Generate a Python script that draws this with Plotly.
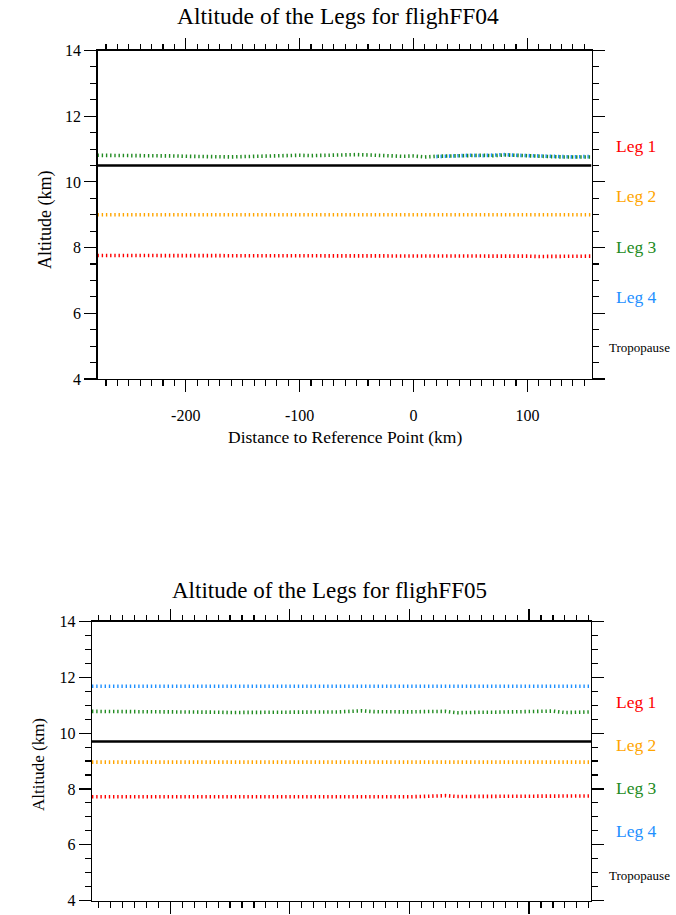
import plotly.graph_objects as go

# ---------------------------------------------------------------------------
# Flight FF04: distance to reference point (km) and leg altitudes (km)
# ---------------------------------------------------------------------------
dist_ff04 = [-277.5, -270, -260, -250, -240, -230, -220, -210, -200, -190,
             -180, -170, -160, -150, -140, -130, -120, -110, -100, -90,
             -80, -70, -60, -50, -40, -30, -20, -10, 0, 10,
             20, 30, 40, 50, 60, 70, 80, 90, 100, 110,
             120, 130, 140, 150, 156.3]

ff04_leg1 = [7.76, 7.76, 7.76, 7.76, 7.76, 7.75, 7.75, 7.75, 7.75, 7.75,
             7.75, 7.75, 7.76, 7.76, 7.76, 7.75, 7.75, 7.75, 7.76, 7.76,
             7.76, 7.75, 7.75, 7.75, 7.75, 7.76, 7.76, 7.75, 7.75, 7.75,
             7.74, 7.74, 7.75, 7.75, 7.74, 7.74, 7.74, 7.74, 7.74, 7.73,
             7.73, 7.73, 7.73, 7.74, 7.74]

ff04_leg2 = [9.00, 9.00, 9.00, 9.00, 9.00, 9.00, 9.00, 9.00, 9.00, 9.00,
             9.00, 9.00, 9.00, 9.00, 9.00, 9.00, 9.00, 9.00, 9.00, 9.00,
             9.00, 9.00, 9.00, 9.00, 9.00, 9.00, 9.00, 9.00, 9.00, 9.00,
             9.00, 9.00, 9.00, 9.00, 9.00, 9.00, 9.00, 9.00, 9.00, 9.00,
             9.00, 9.00, 9.00, 9.00, 9.00]

ff04_leg3 = [10.81, 10.81, 10.81, 10.80, 10.80, 10.80, 10.79, 10.79, 10.78, 10.77,
             10.76, 10.76, 10.76, 10.77, 10.78, 10.79, 10.81, 10.82, 10.81, 10.80,
             10.81, 10.82, 10.82, 10.83, 10.82, 10.80, 10.78, 10.78, 10.79, 10.76,
             10.78, 10.79, 10.80, 10.80, 10.81, 10.80, 10.82, 10.81, 10.79, 10.78,
             10.77, 10.76, 10.75, 10.76, 10.76]

dist_ff04_leg4 = [20, 30, 40, 50, 60, 70, 80, 90, 100, 110, 120, 130, 140, 150, 156.3]
ff04_leg4 = [10.77, 10.79, 10.81, 10.81, 10.80, 10.82, 10.83, 10.81, 10.80, 10.79,
             10.77, 10.77, 10.76, 10.77, 10.77]

ff04_tropopause = [10.5] * len(dist_ff04)

# ---------------------------------------------------------------------------
# Flight FF05
# ---------------------------------------------------------------------------
dist_ff05 = [-265.4, -260, -250, -240, -230, -220, -210, -200, -190, -180,
             -170, -160, -150, -140, -130, -120, -110, -100, -90, -80,
             -70, -60, -50, -40, -30, -20, -10, 0, 10, 20,
             30, 40, 50, 60, 70, 80, 90, 100, 110, 120,
             130, 140, 150, 151.8]

ff05_leg1 = [7.72, 7.72, 7.72, 7.72, 7.72, 7.72, 7.71, 7.71, 7.71, 7.70,
             7.70, 7.70, 7.69, 7.69, 7.69, 7.69, 7.69, 7.70, 7.70, 7.70,
             7.71, 7.71, 7.71, 7.72, 7.72, 7.71, 7.72, 7.72, 7.73, 7.74,
             7.76, 7.73, 7.73, 7.74, 7.74, 7.74, 7.75, 7.74, 7.75, 7.75,
             7.75, 7.75, 7.76, 7.75]

ff05_leg2 = [8.96, 8.96, 8.96, 8.96, 8.96, 8.96, 8.96, 8.96, 8.96, 8.96,
             8.96, 8.96, 8.96, 8.96, 8.96, 8.96, 8.96, 8.96, 8.96, 8.96,
             8.96, 8.96, 8.96, 8.96, 8.96, 8.96, 8.96, 8.96, 8.96, 8.96,
             8.96, 8.96, 8.96, 8.96, 8.96, 8.96, 8.96, 8.96, 8.96, 8.96,
             8.96, 8.96, 8.96, 8.96]

ff05_leg3 = [10.78, 10.78, 10.78, 10.78, 10.77, 10.77, 10.77, 10.77, 10.76, 10.76,
             10.75, 10.75, 10.74, 10.74, 10.74, 10.74, 10.74, 10.74, 10.75, 10.75,
             10.76, 10.76, 10.78, 10.80, 10.77, 10.76, 10.76, 10.76, 10.77, 10.76,
             10.78, 10.73, 10.75, 10.75, 10.75, 10.76, 10.76, 10.76, 10.77, 10.79,
             10.74, 10.76, 10.76, 10.76]

ff05_leg4 = [11.68] * len(dist_ff05)

ff05_tropopause = [9.70] * len(dist_ff05)

# Axis ticks (labels written with a plain hyphen for negatives)
dist_tick_vals = [-200, -100, 0, 100]
dist_tick_text = ["-200", "-100", "0", "100"]
alt_tick_vals = [4, 6, 8, 10, 12, 14]
alt_tick_text = ["4", "6", "8", "10", "12", "14"]

leg_names = ["Leg 1", "Leg 2", "Leg 3", "Leg 4", "Tropopause"]
leg_colors = ["#ff0000", "#ffa500", "#228b22", "#1e90ff", "#000000"]

# ---------------------------------------------------------------------------
W, H = 676, 915
SERIF = "Liberation Serif, Times New Roman, serif"
DOT = "1.4px,2.8px"

fig = go.Figure()


def add_leg(x, y, color, xa, ya):
    fig.add_trace(go.Scatter(
        x=x, y=y, mode="lines", xaxis=xa, yaxis=ya, showlegend=False,
        line=dict(color=color, width=3.6, dash=DOT), hoverinfo="skip"))


def add_trop(x, y, xa, ya):
    fig.add_trace(go.Scatter(
        x=x, y=y, mode="lines", xaxis=xa, yaxis=ya, showlegend=False,
        line=dict(color="#000000", width=2.4), hoverinfo="skip"))


# FF04 panel
add_trop(dist_ff04, ff04_tropopause, "x", "y")
add_leg(dist_ff04, ff04_leg1, leg_colors[0], "x", "y")
add_leg(dist_ff04, ff04_leg2, leg_colors[1], "x", "y")
add_leg(dist_ff04_leg4, ff04_leg4, leg_colors[3], "x", "y")
add_leg(dist_ff04, ff04_leg3, leg_colors[2], "x", "y")

# FF05 panel
add_trop(dist_ff05, ff05_tropopause, "x2", "y2")
add_leg(dist_ff05, ff05_leg1, leg_colors[0], "x2", "y2")
add_leg(dist_ff05, ff05_leg2, leg_colors[1], "x2", "y2")
add_leg(dist_ff05, ff05_leg3, leg_colors[2], "x2", "y2")
add_leg(dist_ff05, ff05_leg4, leg_colors[3], "x2", "y2")

# empty traces so the top/right tick axes get their own subplots
for xa, ya in [("x3", "y"), ("x", "y3"), ("x4", "y2"), ("x2", "y4")]:
    fig.add_trace(go.Scatter(x=[], y=[], xaxis=xa, yaxis=ya, showlegend=False,
                             hoverinfo="skip"))


def px_x(p):
    return p / W


def px_y(p):
    return 1 - p / H


TICK = dict(ticks="outside", ticklen=12, tickwidth=1.1, tickcolor="#000000",
            showgrid=False, zeroline=False, automargin=False, fixedrange=True)


def minor(step):
    return dict(ticks="outside", ticklen=6, tickwidth=1.1, tickcolor="#000000",
                dtick=step, tick0=0, showgrid=False)


def dist_axis(domain, rng, anchor, labels):
    return dict(domain=domain, range=rng, anchor=anchor,
                showline=True, linecolor="#000000", linewidth=1.3, mirror=True,
                tickmode="array", tickvals=dist_tick_vals, ticktext=dist_tick_text,
                minor=minor(10), showticklabels=labels,
                tickfont=dict(family=SERIF, size=16, color="#000000"),
                ticklabelstandoff=9, **TICK)


def alt_axis(domain, anchor):
    return dict(domain=domain, range=[4, 14], anchor=anchor,
                showline=True, linecolor="#000000", linewidth=1.3, mirror=True,
                tickmode="array", tickvals=alt_tick_vals, ticktext=alt_tick_text,
                minor=minor(0.5),
                tickfont=dict(family=SERIF, size=16, color="#000000"), **TICK)


def top_axis(base, rng, anchor):
    return dict(overlaying=base, side="top", range=rng, anchor=anchor,
                showline=False, showticklabels=False,
                tickmode="array", tickvals=dist_tick_vals, minor=minor(10), **TICK)


def right_axis(base, anchor):
    return dict(overlaying=base, side="right", range=[4, 14], anchor=anchor,
                showline=False, showticklabels=False,
                tickmode="array", tickvals=alt_tick_vals, minor=minor(0.5), **TICK)


rng04 = [-277.5, 156.3]
rng05 = [-265.4, 151.8]

fig.update_layout(
    width=W, height=H, autosize=False,
    margin=dict(l=0, r=0, t=0, b=0, pad=0),
    paper_bgcolor="#ffffff", plot_bgcolor="rgba(0,0,0,0)",
    xaxis=dist_axis([px_x(97.5), px_x(591.5)], rng04, "y", True),
    yaxis=alt_axis([px_y(379), px_y(50.5)], "x"),
    xaxis2=dist_axis([px_x(92), px_x(591)], rng05, "y2", False),
    yaxis2=alt_axis([px_y(900.6), px_y(621.5)], "x2"),
    xaxis3=top_axis("x", rng04, "y"),
    yaxis3=right_axis("y", "x"),
    xaxis4=top_axis("x2", rng05, "y2"),
    yaxis4=right_axis("y2", "x2"),
)

ann = []


def text(x, y, s, size, color="#000000", xanchor="center", angle=0):
    ann.append(dict(x=px_x(x), y=px_y(y), xref="paper", yref="paper", text=s,
                    showarrow=False, xanchor=xanchor, yanchor="middle",
                    textangle=angle,
                    font=dict(family=SERIF, size=size, color=color)))


# Titles and axis titles
text(338, 16, "Altitude of the Legs for flighFF04", 23.5)
text(45, 220, "Altitude (km)", 18, angle=-90)
text(345, 437, "Distance to Reference Point (km)", 17.5)

text(329, 590, "Altitude of the Legs for flighFF05", 23)
text(38, 765, "Altitude (km)", 17, angle=-90)

# Right-hand labels for both flights
for ys in ([146, 196, 247, 297, 348], [702, 745, 788, 831, 875]):
    for name, color, yy in zip(leg_names, leg_colors, ys):
        if name == "Tropopause":
            text(607, yy, name, 13, color, xanchor="left")
        else:
            text(614, yy, name, 17.5, color, xanchor="left")

fig.update_layout(annotations=ann)

fig.write_html("out.html", config=dict(displayModeBar=False, staticPlot=True))
